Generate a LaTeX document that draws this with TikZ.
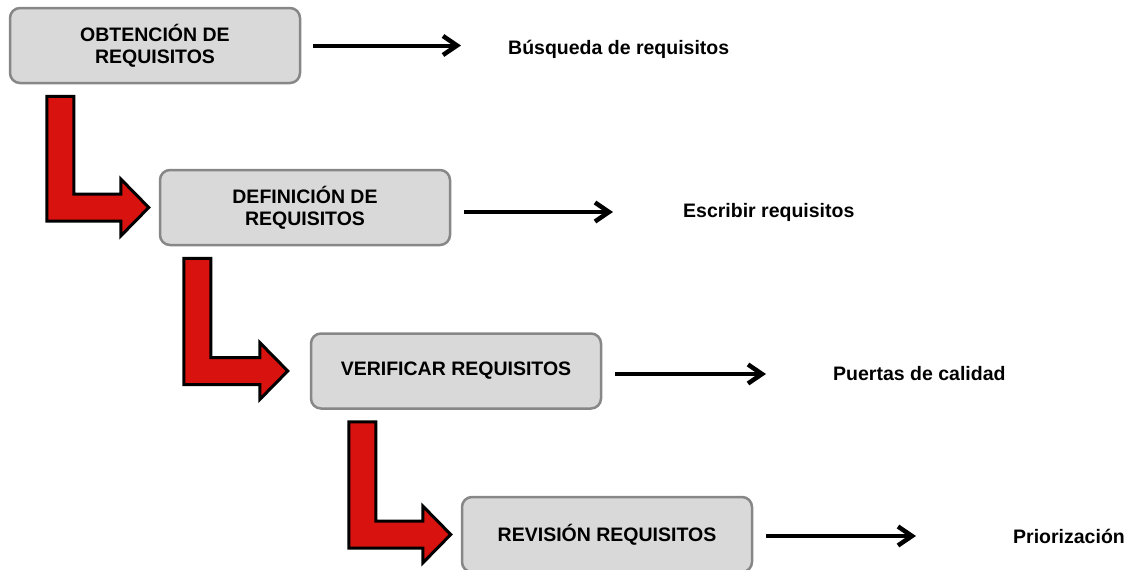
\documentclass[tikz,border=0pt]{standalone}
\usepackage{fontspec}
\setmainfont{Liberation Sans}
\usetikzlibrary{arrows.meta,calc}
\definecolor{boxfill}{HTML}{D9D9D9}
\definecolor{boxline}{HTML}{878787}
\definecolor{redfill}{HTML}{D7120F}
\tikzset{
  stagebox/.style={draw=boxline, fill=boxfill, line width=2.5pt, rounded corners=10pt,
    minimum width=290pt, minimum height=75pt, align=center, inner sep=0pt,
    font=\fontsize{19.5}{22}\selectfont\bfseries},
  lab/.style={anchor=west, inner sep=0pt, font=\fontsize{19.5}{22}\selectfont\bfseries},
  flow/.style={line width=4pt, -{Straight Barb[length=14pt,width=19pt,line width=4.5pt]}},
  redarrow/.style={draw=black, fill=redfill, line width=3pt, line join=miter}
}
\newcommand{\redbend}[4]{%
  % #1 from node, #2 to node, #3 shaft x offset, #4 gap before target
  \draw[redarrow] let \p1=(#1.south west), \p2=(#2.west) in
    ({\x1+#3}, {\y1-12pt}) -- ({\x1+#3+27pt}, {\y1-12pt})
    -- ({\x1+#3+27pt}, {\y2+13.5pt}) -- ({\x2-#4-28pt}, {\y2+13.5pt})
    -- ({\x2-#4-28pt}, {\y2+28.5pt}) -- ({\x2-#4}, {\y2})
    -- ({\x2-#4-28pt}, {\y2-28.5pt}) -- ({\x2-#4-28pt}, {\y2-13.5pt})
    -- ({\x1+#3}, {\y2-13.5pt}) -- cycle;}
\begin{document}
\begin{tikzpicture}[x=1pt,y=-1pt]
\useasboundingbox (0,0) rectangle (1132,570);
\node[stagebox] (b1) at (155,45.5) {OBTENCIÓN DE\\REQUISITOS};
\node[stagebox] (b2) at (305,207.5) {DEFINICIÓN DE\\REQUISITOS};
\node[stagebox] (b3) at (456,371) {VERIFICAR REQUISITOS};
\node[stagebox] (b4) at (607,534.5) {REVISIÓN REQUISITOS};
\node[lab] (l1) at (508,49) {Búsqueda de requisitos};
\node[lab] (l2) at (683,212) {Escribir requisitos};
\node[lab] (l3) at (833,374) {Puertas de calidad};
\node[lab] (l4) at (1013,536) {Priorización};
\draw[flow] ([xshift=12pt]b1.east) -- ([xshift=-47pt]l1.west |- b1.east);
\draw[flow] ([xshift=13pt]b2.east |- l2.west) -- ([xshift=-70pt]l2.west);
\draw[flow] ([xshift=13pt]b3.east |- l3.west) -- ([xshift=-67pt]l3.west);
\draw[flow] ([xshift=13pt]b4.east |- l4.west) -- ([xshift=-97pt]l4.west);
\redbend{b1}{b2}{38pt}{10pt}
\redbend{b2}{b3}{25pt}{22pt}
\redbend{b3}{b4}{39pt}{10pt}
\end{tikzpicture}
\end{document}
